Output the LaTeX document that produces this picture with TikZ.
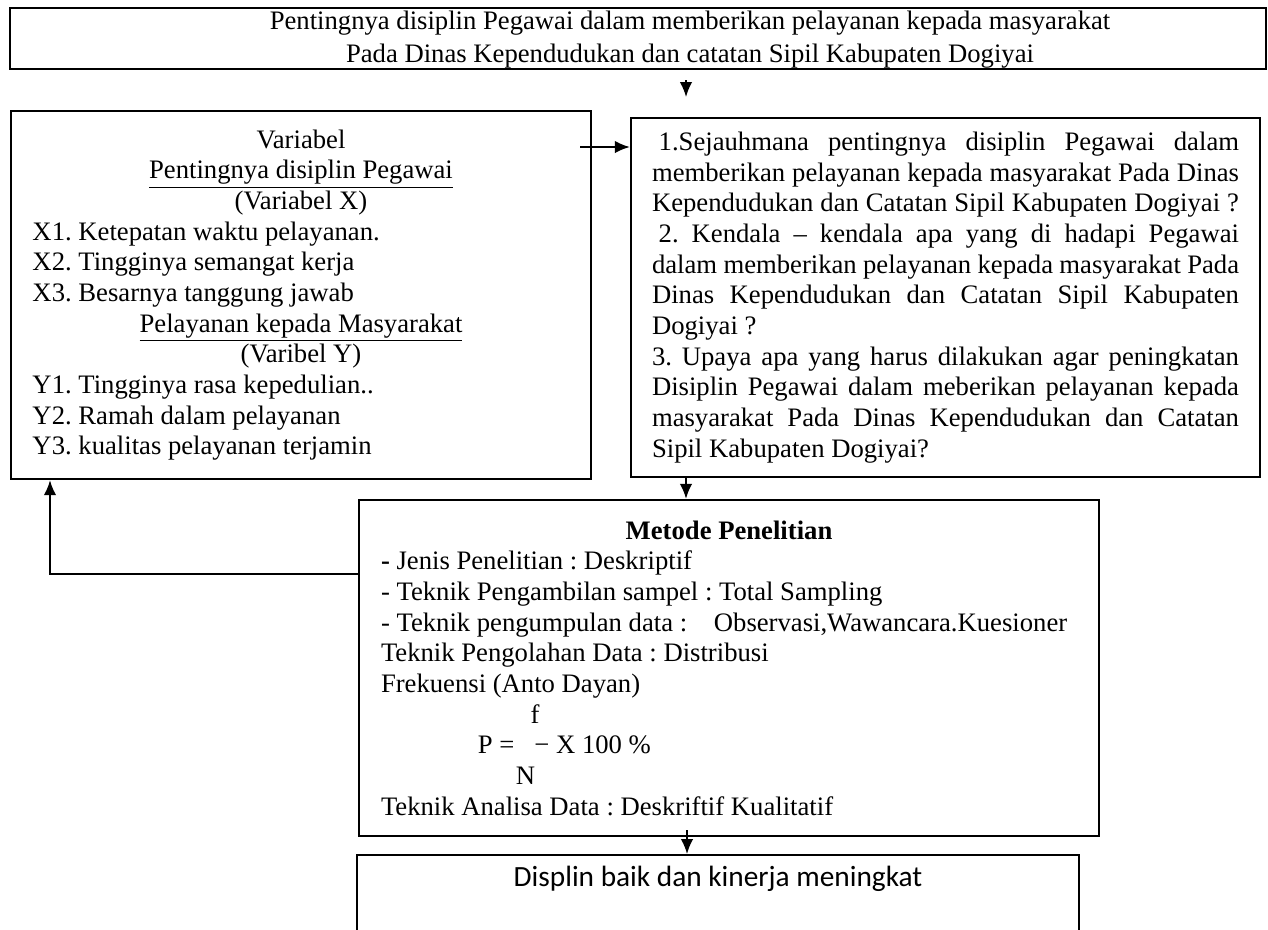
\documentclass[tikz,border=0pt]{standalone}
\usepackage{fontspec}
\setmainfont{Liberation Serif}
\newfontfamily\calibrifont{Carlito}
\usetikzlibrary{positioning,arrows.meta,calc}

\newcommand{\rata}[1]{\makebox[\linewidth][s]{#1}}
\newcommand{\tengah}[1]{\makebox[\linewidth]{#1}}
\frenchspacing

\begin{document}
\begin{tikzpicture}[x=0.45pt,y=-0.45pt,
  kotak/.style={draw,line width=1.1pt,inner sep=0pt,font=\fontsize{12}{13.8}\selectfont},
  panah/.style={-{Latex[length=6.7pt,width=5.6pt]},line width=0.8pt}]
  \clip (0,0) rectangle (1268,929);
  \begin{scope}
    \node (judul) at (638,38.5) [kotak,minimum width=1256*0.45pt,minimum height=61*0.45pt]{};
    \node (judulteks) at (690,39.5) [align=center,inner sep=0pt,font=\fontsize{12}{14.8}\selectfont]{Pentingnya disiplin Pegawai dalam memberikan pelayanan kepada masyarakat\\Pada Dinas Kependudukan dan catatan Sipil Kabupaten Dogiyai};

    \node (variabel) at (301,295) [kotak,minimum width=580*0.45pt,minimum height=368*0.45pt]{\parbox{241.65pt}{%
      \tengah{Variabel}\\
      \tengah{\underline{Pentingnya disiplin Pegawai}}\\
      \tengah{(Variabel X)}\\
      X1. Ketepatan waktu pelayanan.\\
      X2. Tingginya semangat kerja\\
      X3. Besarnya tanggung jawab\\
      \tengah{\underline{Pelayanan kepada Masyarakat}}\\
      \tengah{(Varibel Y)}\\
      Y1. Tingginya rasa kepedulian..\\
      Y2. Ramah dalam pelayanan\\
      Y3. kualitas pelayanan terjamin}};

    \node (soal) at (945.5,297.5) [kotak,minimum width=629*0.45pt,minimum height=359*0.45pt]{\parbox{264.15pt}{%
      \rata{\hskip3pt 1.Sejauhmana pentingnya disiplin Pegawai dalam}\\
      \rata{memberikan pelayanan kepada masyarakat Pada Dinas}\\
      \rata{Kependudukan dan Catatan Sipil Kabupaten Dogiyai ?}\\
      \rata{\hskip3pt 2. Kendala – kendala apa yang di hadapi Pegawai}\\
      \rata{dalam memberikan pelayanan kepada masyarakat Pada}\\
      \rata{Dinas Kependudukan dan Catatan Sipil Kabupaten}\\
      Dogiyai ?\\
      \rata{3. Upaya apa yang harus dilakukan agar peningkatan}\\
      \rata{Disiplin Pegawai dalam meberikan pelayanan kepada}\\
      \rata{masyarakat Pada Dinas Kependudukan dan Catatan}\\
      Sipil Kabupaten Dogiyai?}};

    \node (metode) at (729,668) [kotak,minimum width=740*0.45pt,minimum height=336*0.45pt]{\parbox{313.2pt}{%
      \tengah{\textbf{Metode Penelitian}}\\
      \textbf{-} Jenis Penelitian : Deskriptif\\
      - Teknik Pengambilan sampel : Total Sampling\\
      - Teknik pengumpulan data :\hspace{12pt}Observasi,Wawancara.Kuesioner\\
      Teknik Pengolahan Data : Distribusi\\
      Frekuensi (Anto Dayan)\\
      \hspace*{67.3pt}f\\
      \hspace*{43.6pt}P = \ \ − X 100 \%\\
      \hspace*{60.7pt}N\\
      Teknik Analisa Data : Deskriftif Kualitatif}};

    \node (hasil) at (718,854) [kotak,anchor=north,minimum width=722*0.45pt,text height=14.2pt,text depth=100pt,font=\calibrifont\fontsize{13.2}{15}\selectfont]{Displin baik dan kinerja meningkat};

    \coordinate (atas) at (686,80);
    \coordinate (atasujung) at (686,97);
    \coordinate (mulai) at (580,147);
    \coordinate (balik) at (50,574);

    \draw[panah] (atas) -- (atasujung);
    \draw[panah] (mulai) -- (mulai -| soal.west);
    \draw[panah] (soal.south -| atas) -- (metode.north -| atas);
    \draw[panah] ($(metode.south -| atas)+(1,-7)$) -- (hasil.north -| {$(atas)+(1,0)$});
    \draw[panah] (metode.west |- balik) -- (balik) -- (variabel.south -| balik);
  \end{scope}
\end{tikzpicture}
\end{document}
